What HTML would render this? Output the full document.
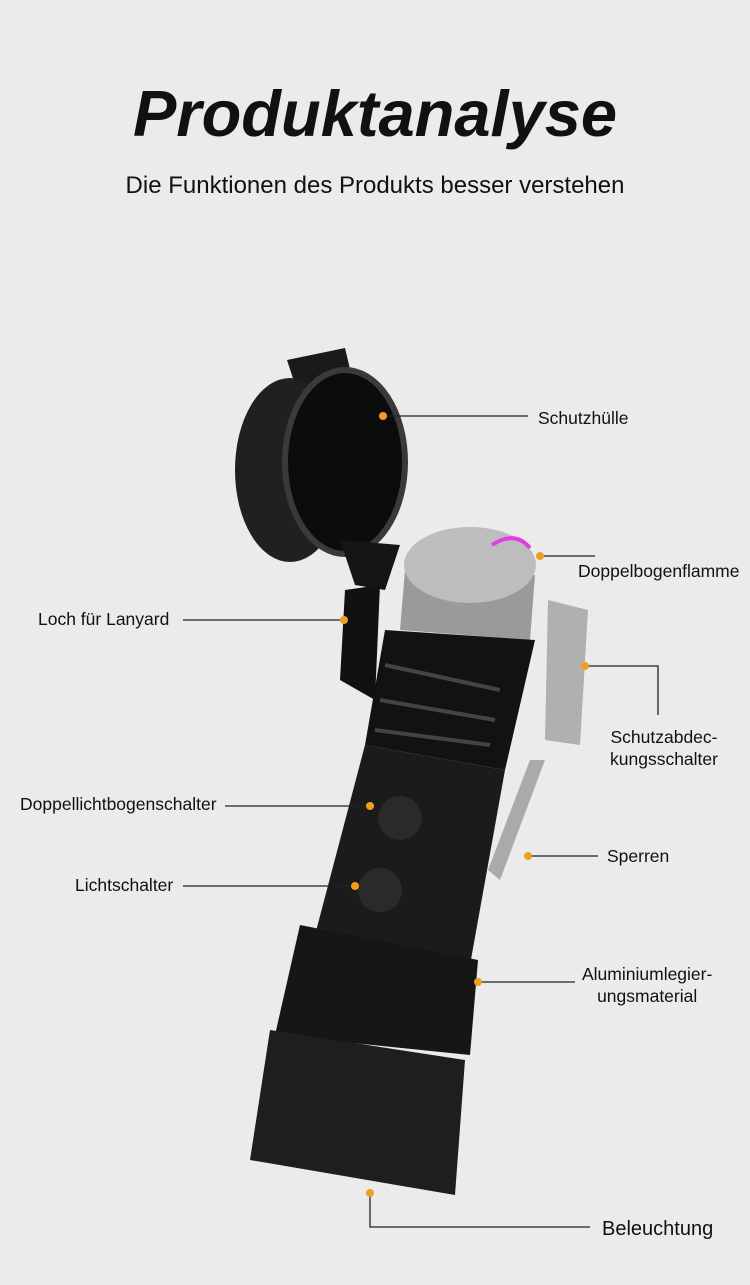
<!DOCTYPE html>
<html><head><meta charset="utf-8"><style>
body{margin:0;background:#ebebeb;}
.w{position:relative;width:750px;height:1285px;overflow:hidden;background:#ebebeb;font-family:"Liberation Sans",sans-serif;color:#111;}
.t{position:absolute;left:0;width:750px;text-align:center;}
.l{position:absolute;font-size:17.5px;white-space:nowrap;}
svg{position:absolute;left:0;top:0;}
</style></head><body><div class="w">
<div class="t" style="top:76px;font-size:65px;font-weight:bold;font-style:italic;">Produktanalyse</div>
<div class="t" style="top:172px;font-size:24px;">Die Funktionen des Produkts besser verstehen</div>
<svg width="750" height="1285" viewBox="0 0 750 1285">
<path d="M287 360 L345 348 L355 390 L300 400 Z" fill="#1a1a1a"/>
<ellipse cx="290" cy="470" rx="55" ry="92" fill="#202020"/>
<ellipse cx="345" cy="462" rx="60" ry="92" fill="#0c0c0c" stroke="#3a3a3a" stroke-width="6"/>
<path d="M340 540 L400 545 L385 590 L355 585 Z" fill="#151515"/>
<path d="M345 590 L380 585 L375 700 L340 680 Z" fill="#111"/>
<path d="M405 570 L535 575 L530 640 L400 630 Z" fill="#9a9a9a"/>
<ellipse cx="470" cy="565" rx="66" ry="38" fill="#bdbdbd"/>
<path d="M492 545 Q515 530 530 548" stroke="#e040e0" stroke-width="4" fill="none"/>
<path d="M385 630 L535 640 L505 770 L365 745 Z" fill="#121212"/>
<path d="M385 665 L500 690 M380 700 L495 720 M375 730 L490 745" stroke="#444" stroke-width="4"/>
<path d="M548 600 L588 610 L580 745 L545 740 Z" fill="#b0b0b0"/>
<path d="M530 760 L545 760 L500 880 L488 870 Z" fill="#aaa"/>
<path d="M365 745 L505 770 L470 965 L315 935 Z" fill="#1b1b1b"/>
<circle cx="400" cy="818" r="22" fill="#2a2a2a"/>
<circle cx="380" cy="890" r="22" fill="#2a2a2a"/>
<path d="M300 925 L478 960 L470 1055 L275 1035 Z" fill="#161616"/>
<path d="M270 1030 L465 1060 L455 1195 L250 1160 Z" fill="#1e1e1e"/>
<g stroke="#222" stroke-width="1.3" fill="none">
<path d="M383 416 H528 M540 556 H595 M183 620 H344 M585 666 H658 V715 M225 806 H370 M183 886 H355 M528 856 H598 M478 982 H575 M370 1193 V1227 H590"/>
</g>
<g fill="#f0a020">
<circle cx="383" cy="416" r="4"/><circle cx="540" cy="556" r="4"/><circle cx="344" cy="620" r="4"/><circle cx="585" cy="666" r="4"/><circle cx="370" cy="806" r="4"/><circle cx="355" cy="886" r="4"/><circle cx="528" cy="856" r="4"/><circle cx="478" cy="982" r="4"/><circle cx="370" cy="1193" r="4"/>
</g>
</svg>
<div class="l" style="left:538px;top:408px;">Schutzhülle</div>
<div class="l" style="left:578px;top:561px;">Doppelbogenflamme</div>
<div class="l" style="left:38px;top:609px;">Loch für Lanyard</div>
<div class="l" style="left:610px;top:726px;line-height:22px;text-align:center;">Schutzabdec-<br>kungsschalter</div>
<div class="l" style="left:20px;top:794px;">Doppellichtbogenschalter</div>
<div class="l" style="left:75px;top:875px;">Lichtschalter</div>
<div class="l" style="left:607px;top:846px;">Sperren</div>
<div class="l" style="left:582px;top:963px;line-height:22px;text-align:center;">Aluminiumlegier-<br>ungsmaterial</div>
<div class="l" style="left:602px;top:1218px;font-size:20px;">Beleuchtung</div>
</div></body></html>
